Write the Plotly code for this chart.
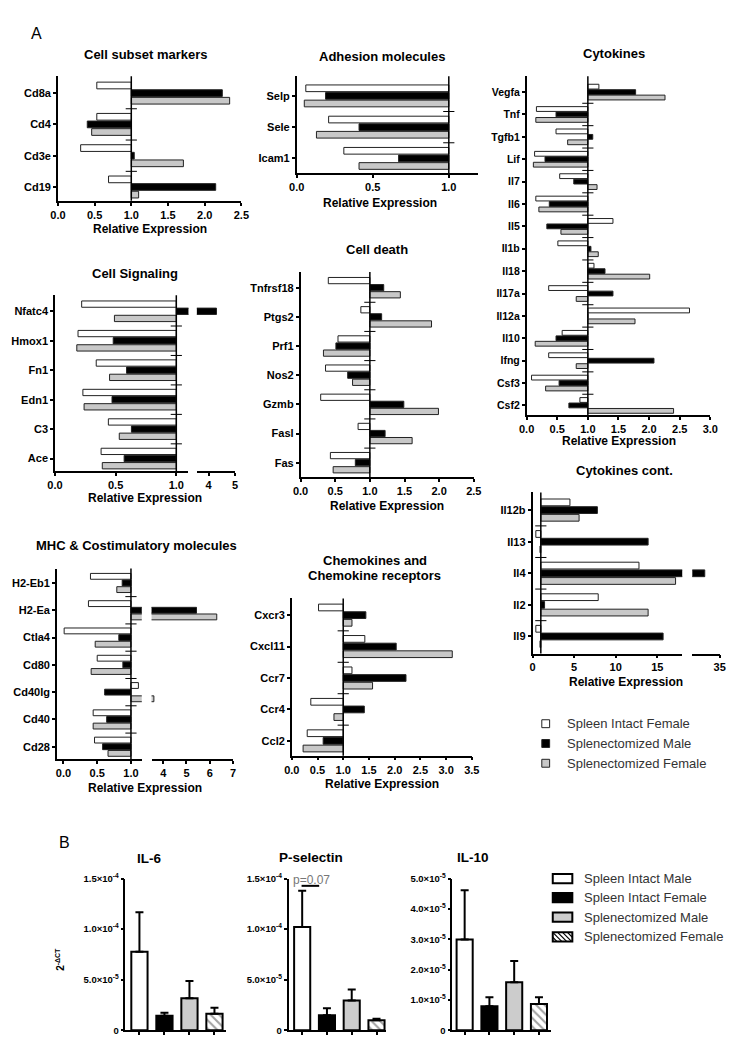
import plotly.graph_objects as go

W, H = 746, 1050
FONT = "Liberation Sans"

# ---------------- data (panel A: relative expression, 3 groups) ----------------
series_names = ["Spleen Intact Female", "Splenectomized Male", "Splenectomized Female"]

subset_genes = ["Cd8a", "Cd4", "Cd3e", "Cd19"]
subset_intact_f = [0.53, 0.53, 0.31, 0.69]
subset_splx_m = [2.24, 0.40, 1.04, 2.15]
subset_splx_f = [2.34, 0.46, 1.71, 1.10]

adhesion_genes = ["Selp", "Sele", "Icam1"]
adhesion_intact_f = [0.06, 0.21, 0.31]
adhesion_splx_m = [0.19, 0.41, 0.67]
adhesion_splx_f = [0.05, 0.13, 0.41]

cytokine_genes = ["Vegfa", "Tnf", "Tgfb1", "Lif", "Il7", "Il6", "Il5", "Il1b",
                  "Il18", "Il17a", "Il12a", "Il10", "Ifng", "Csf3", "Csf2"]
cytokine_intact_f = [1.18, 0.16, 0.48, 0.13, 0.54, 0.15, 1.41, 0.51, 1.10, 0.36, 2.66, 0.58, 0.36, 0.08, 0.87]
cytokine_splx_m = [1.78, 0.48, 1.08, 0.30, 0.77, 0.37, 0.33, 1.05, 1.28, 1.41, 1.00, 0.48, 2.08, 0.53, 0.69]
cytokine_splx_f = [2.26, 0.15, 0.67, 0.11, 1.15, 0.20, 0.56, 1.17, 2.01, 0.81, 1.77, 0.14, 0.81, 0.31, 2.40]

signal_genes = ["Nfatc4", "Hmox1", "Fn1", "Edn1", "C3", "Ace"]
signal_intact_f = [0.22, 0.19, 0.34, 0.23, 0.44, 0.38]
signal_splx_m = [4.30, 0.48, 0.59, 0.47, 0.63, 0.57]
signal_splx_f = [0.49, 0.18, 0.45, 0.24, 0.53, 0.39]

death_genes = ["Tnfrsf18", "Ptgs2", "Prf1", "Nos2", "Gzmb", "Fasl", "Fas"]
death_intact_f = [0.40, 0.87, 0.54, 0.36, 0.29, 0.83, 0.43]
death_splx_m = [1.20, 1.17, 0.51, 0.68, 1.49, 1.22, 0.79]
death_splx_f = [1.44, 1.89, 0.33, 0.75, 1.99, 1.61, 0.47]

cont_genes = ["Il12b", "Il13", "Il4", "Il2", "Il9"]
cont_intact_f = [4.5, 0.4, 12.8, 7.9, 0.4]
cont_splx_m = [7.8, 13.9, 33.2, 1.45, 15.7]
cont_splx_f = [5.6, 0.9, 17.2, 13.9, 0.9]

mhc_genes = ["H2-Eb1", "H2-Ea", "Ctla4", "Cd80", "Cd40lg", "Cd40", "Cd28"]
mhc_intact_f = [0.40, 0.37, 0.01, 0.50, 1.11, 0.44, 0.46]
mhc_splx_m = [0.87, 5.43, 0.82, 0.88, 0.61, 0.64, 0.58]
mhc_splx_f = [0.79, 6.30, 0.47, 0.41, 3.60, 0.44, 0.66]

chemo_genes = ["Cxcr3", "Cxcl11", "Ccr7", "Ccr4", "Ccl2"]
chemo_intact_f = [0.52, 1.42, 1.17, 0.37, 0.30]
chemo_splx_m = [1.44, 2.03, 2.22, 1.41, 0.61]
chemo_splx_f = [1.17, 3.12, 1.57, 0.82, 0.22]

# ---------------- data (panel B: 2^-dCT, mean + SEM) ----------------
b_groups = ["Spleen Intact Male", "Spleen Intact Female", "Splenectomized Male", "Splenectomized Female"]
il6_mean = [7.76e-5, 1.43e-5, 3.16e-5, 1.63e-5]
il6_sem = [3.9e-5, 0.3e-5, 1.7e-5, 0.6e-5]
psel_mean = [1.02e-4, 1.47e-5, 2.93e-5, 0.98e-5]
psel_sem = [3.6e-5, 0.7e-5, 1.1e-5, 0.16e-5]
il10_mean = [2.99e-5, 0.79e-5, 1.58e-5, 0.86e-5]
il10_sem = [1.63e-5, 0.30e-5, 0.70e-5, 0.23e-5]

# ---------------- helpers ----------------
def px(x):
    return x / W


def py(y):
    return 1 - y / H


fig = go.Figure()
axes = {}
shapes = []
annots = []
count = [0]
A_COLORS = ["white", "black", "#c8c8c8"]


def style(**kw):
    d = dict(showline=True, linecolor="black", linewidth=1.5, ticks="outside", ticklen=3,
             tickwidth=1.5, tickcolor="black", showgrid=False, zeroline=False, fixedrange=True,
             tickfont=dict(family=FONT, size=11, color="black", weight="bold"))
    d.update(kw)
    return d


def new_pair(xd, yd, xkw, ykw):
    count[0] += 1
    s = "" if count[0] == 1 else str(count[0])
    axes["xaxis" + s] = dict(domain=[px(xd[0]), px(xd[1])], anchor="y" + s, **xkw)
    axes["yaxis" + s] = dict(domain=[py(yd[1]), py(yd[0])], anchor="x" + s, **ykw)
    return "x" + s, "y" + s


def text(x, y, s, size=12, bold=True, color="black", angle=0, xanchor="center"):
    annots.append(dict(x=px(x), y=py(y), xref="paper", yref="paper", text=s, showarrow=False,
                       xanchor=xanchor, yanchor="middle", textangle=angle,
                       font=dict(family=FONT, size=size, color=color,
                                 weight="bold" if bold else "normal")))


def hpanel(genes, vals, segs, ytop, ybot, yr, tick_fs=11):
    n = len(genes)
    ypos = list(range(n))
    first = True
    for (x0, x1, xr, tv, tt) in segs:
        if first:
            ykw = style(range=yr, tickvals=ypos, ticktext=genes,
                        tickfont=dict(family=FONT, size=tick_fs, color="black", weight="bold"))
        else:
            ykw = dict(range=yr, visible=False, fixedrange=True)
        xa, ya = new_pair((x0, x1), (ytop, ybot), style(range=xr, tickvals=tv, ticktext=tt), ykw)
        for name, color, v in zip(series_names, A_COLORS, vals):
            fig.add_trace(go.Bar(y=ypos, x=[val - 1 for val in v], base=1, orientation="h",
                                 xaxis=xa, yaxis=ya, name=name, offsetgroup=name,
                                 marker=dict(color=color, line=dict(color="#222", width=1)),
                                 showlegend=False))
        if first:
            shapes.append(dict(type="line", xref=xa, yref=ya + " domain", x0=1, x1=1, y0=0, y1=1,
                               line=dict(color="black", width=1.5)))
            fig.add_trace(go.Scatter(x=[1] * (n - 1), y=[i + 0.5 for i in range(n - 1)],
                                     mode="markers", xaxis=xa, yaxis=ya, showlegend=False,
                                     hoverinfo="skip",
                                     marker=dict(symbol="line-ew", size=8,
                                                 line=dict(color="black", width=1))))
        first = False


def fmt(vals):
    return ["%.1f" % v for v in vals]


# ---------------- panel A ----------------
hpanel(subset_genes, [subset_intact_f, subset_splx_m, subset_splx_f],
       [(51, 238.5, [0, 2.5], [0, 0.5, 1, 1.5, 2, 2.5], fmt([0, 0.5, 1, 1.5, 2, 2.5]))],
       70, 196, [3.44, -0.54])
text(141, 48, "Cell subset markers", 13)
text(145, 225, "Relative Expression", 12)

hpanel(adhesion_genes, [adhesion_intact_f, adhesion_splx_m, adhesion_splx_f],
       [(295, 480, [0, 1.19], [0, 0.5, 1], fmt([0, 0.5, 1]))],
       70, 168, [2.47, -0.63])
text(382, 50, "Adhesion molecules", 13)
text(380, 198, "Relative Expression", 12)

hpanel(cytokine_genes, [cytokine_intact_f, cytokine_splx_m, cytokine_splx_f],
       [(530, 717.7, [0, 3], [0, 0.5, 1, 1.5, 2, 2.5, 3], fmt([0, 0.5, 1, 1.5, 2, 2.5, 3]))],
       70, 413, [14.44, -0.71], tick_fs=10.5)
text(619, 47, "Cytokines", 13)
text(624, 439, "Relative Expression", 12)

hpanel(signal_genes, [signal_intact_f, signal_splx_m, signal_splx_f],
       [(48, 184.4, [0, 1.1], [0, 0.5, 1], fmt([0, 0.5, 1])),
        (193, 232, [3.56, 5], [4, 5], ["4", "5"])],
       291.7, 469.3, [5.42, -0.54])
text(130, 270, "Cell Signaling", 13)
text(140, 497, "Relative Expression", 12)

hpanel(death_genes, [death_intact_f, death_splx_m, death_splx_f],
       [(299, 476, [0, 2.5], [0, 0.5, 1, 1.5, 2, 2.5], fmt([0, 0.5, 1, 1.5, 2, 2.5]))],
       268, 475.7, [6.5, -0.54])
text(376.7, 245, "Cell death", 13)
text(387, 505, "Relative Expression", 12)

hpanel(cont_genes, [cont_intact_f, cont_splx_m, cont_splx_f],
       [(536, 689, [0, 18], [0, 5, 10, 15], ["0", "5", "10", "15"]),
        (699.3, 727.3, [31.7, 35], [35], ["35"])],
       491, 654, [4.54, -0.56])
text(630, 469, "Cytokines cont.", 13)
text(632, 683, "Relative Expression", 12)

hpanel(mhc_genes, [mhc_intact_f, mhc_splx_m, mhc_splx_f],
       [(50, 136.7, [-0.097, 1.16], [0, 0.5, 1], fmt([0, 0.5, 1])),
        (146.7, 230, [3.5, 7], [4, 5, 6, 7], ["4", "5", "6", "7"])],
       568, 760.7, [6.45, -0.53])
text(131.7, 545, "MHC &amp; Costimulatory molecules", 13)
text(140, 790, "Relative Expression", 12)

hpanel(chemo_genes, [chemo_intact_f, chemo_splx_m, chemo_splx_f],
       [(290, 474, [0, 3.5], [0, 0.5, 1, 1.5, 2, 2.5, 3, 3.5], fmt([0, 0.5, 1, 1.5, 2, 2.5, 3, 3.5]))],
       598.3, 757.3, [4.47, -0.53])
text(375, 560, "Chemokines and", 13)
text(375, 575, "Chemokine receptors", 13)
text(382, 786, "Relative Expression", 12)

# legend A
for i, (name, col) in enumerate(zip(series_names, A_COLORS)):
    yc = 725 + 20 * i
    shapes.append(dict(type="rect", xref="paper", yref="paper", x0=px(545.5), x1=px(553.5),
                       y0=py(yc + 4), y1=py(yc - 4), fillcolor=col, line=dict(color="#222", width=1)))
    text(569, yc, name, 13, bold=False, color="#333", xanchor="left")

text(29, 27, "A", 16, bold=False)

# ---------------- panel B ----------------
B_FILLS = ["white", "black", "#cccccc", "white"]
B_PATTERNS = ["", "", "", "\\"]


def bpanel(mean, sem, x0, x1, xr, yr, tv, tt):
    xa, ya = new_pair((x0, x1), (881.7, 1035),
                      style(range=xr, tickvals=[0, 1, 2, 3], showticklabels=False),
                      style(range=yr, tickvals=tv, ticktext=tt,
                            tickfont=dict(family=FONT, size=9.5, color="black", weight="bold")))
    fig.add_trace(go.Bar(x=[0, 1, 2, 3], y=mean, width=0.65, xaxis=xa, yaxis=ya,
                         showlegend=False, hovertext=b_groups,
                         marker=dict(color=B_FILLS, line=dict(color="black", width=2),
                                     pattern=dict(shape=B_PATTERNS, fgcolor="black", size=6,
                                                  solidity=0.35)),
                         error_y=dict(type="data", symmetric=False, array=sem,
                                      arrayminus=[0] * len(sem), thickness=2, width=4,
                                      color="black")))
    return xa, ya


e4 = "×10<sup>-4</sup>"
e5 = "×10<sup>-5</sup>"
bpanel(il6_mean, il6_sem, 120, 223, [-0.56, 3.47], [0, 1.5e-4],
       [0, 5e-5, 1e-4, 1.5e-4], ["0", "5.0" + e5, "1.0" + e4, "1.5" + e4])
text(144, 861.7, "IL-6", 13.5)
bpanel(psel_mean, psel_sem, 286.7, 386.7, [-0.55, 3.4], [0, 1.5e-4],
       [0, 5e-5, 1e-4, 1.5e-4], ["0", "5.0" + e5, "1.0" + e4, "1.5" + e4])
text(310, 860, "P-selectin", 13.5)
text(310, 882.7, "p=0.07", 12, bold=False, color="#777")
shapes.append(dict(type="line", xref="paper", yref="paper", x0=px(300), x1=px(318),
                   y0=py(889), y1=py(889), line=dict(color="black", width=2)))
bpanel(il10_mean, il10_sem, 454, 555, [-0.5, 3.49], [0, 5e-5],
       [0, 1e-5, 2e-5, 3e-5, 4e-5, 5e-5],
       ["0", "1.0" + e5, "2.0" + e5, "3.0" + e5, "4.0" + e5, "5.0" + e5])
text(475, 860, "IL-10", 13.5)

text(58, 845, "B", 16, bold=False)
text(53, 963, "2<sup>-ΔCT</sup>", 10, angle=-90)

# legend B
for i, (name, col) in enumerate(zip(b_groups, B_FILLS)):
    yc = [881.7, 901, 920.7, 940.7][i]
    x0, x1, y0, y1 = 556.7, 576.7, yc - 4.7, yc + 4.7
    shapes.append(dict(type="rect", xref="paper", yref="paper", x0=px(x0), x1=px(x1),
                       y0=py(y1), y1=py(y0), fillcolor=col, line=dict(color="black", width=2)))
    if B_PATTERNS[i]:
        for k in range(-1, 4):
            a0 = x0 + 5 * k
            sx0, sy0 = a0, y0
            sx1, sy1 = a0 + (y1 - y0), y1
            if sx0 < x0:
                sy0 += x0 - sx0
                sx0 = x0
            if sx1 > x1:
                sy1 -= sx1 - x1
                sx1 = x1
            if sx1 > sx0:
                shapes.append(dict(type="line", xref="paper", yref="paper", x0=px(sx0), x1=px(sx1),
                                   y0=py(sy0), y1=py(sy1), line=dict(color="black", width=1.2)))
    text(586.7, yc, name, 13, bold=False, color="#333", xanchor="left")

fig.update_layout(
    width=W, height=H, margin=dict(l=0, r=0, t=0, b=0),
    paper_bgcolor="white", plot_bgcolor="white",
    barmode="group", bargap=0.27, bargroupgap=0.12, showlegend=False,
    shapes=shapes, annotations=annots, **axes,
)

fig.write_html("out.html", config={"displayModeBar": False},
               post_script="document.body.style.margin='0';document.body.style.overflow='hidden';")
